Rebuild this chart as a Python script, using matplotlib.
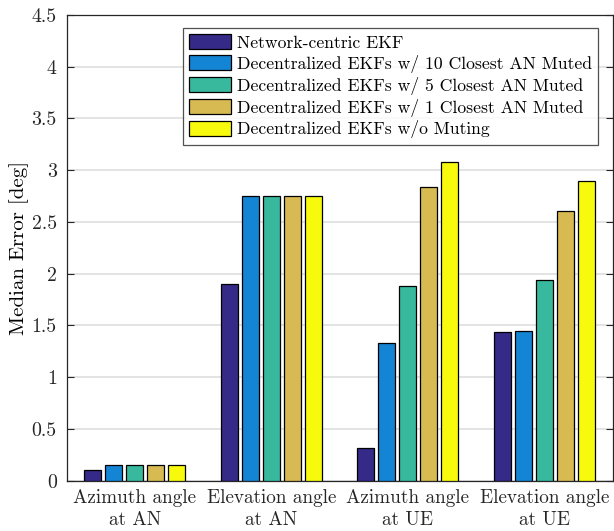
import matplotlib
matplotlib.use("Agg")
import matplotlib.pyplot as plt
import numpy as np

plt.rcParams['font.family'] = ['cmr10', 'DejaVu Serif']
plt.rcParams['axes.formatter.use_mathtext'] = True
plt.rcParams['mathtext.fontset'] = 'cm'

# data
categories = ["Azimuth angle\nat AN", "Elevation angle\nat AN",
              "Azimuth angle\nat UE", "Elevation angle\nat UE"]
series_names = ["Network-centric EKF",
                "Decentralized EKFs w/ 10 Closest AN Muted",
                "Decentralized EKFs w/ 5 Closest AN Muted",
                "Decentralized EKFs w/ 1 Closest AN Muted",
                "Decentralized EKFs w/o Muting"]
network_centric = [0.10, 1.90, 0.32, 1.44]
muted_10 = [0.15, 2.75, 1.33, 1.445]
muted_5 = [0.15, 2.75, 1.88, 1.935]
muted_1 = [0.15, 2.75, 2.84, 2.61]
no_muting = [0.15, 2.75, 3.08, 2.90]
yticks = [0, 0.5, 1, 1.5, 2, 2.5, 3, 3.5, 4, 4.5]
ytick_labels = ["0", "0.5", "1", "1.5", "2", "2.5", "3", "3.5", "4", "4.5"]

colors = ["#352a87", "#1484d4", "#38b99e", "#d7ba52", "#f8fa0d"]
values = [network_centric, muted_10, muted_5, muted_1, no_muting]

fig = plt.figure(figsize=(6.14, 5.31), dpi=100)
ax = fig.add_axes([66.5 / 614, 1 - 480.7 / 531, 546 / 614, 465.7 / 531])

x = np.arange(1, len(categories) + 1)
n = len(values)
pitch = 0.769 / n
width = pitch * 0.82
for i, (vals, c, name) in enumerate(zip(values, colors, series_names)):
    offs = (i - (n - 1) / 2) * pitch
    ax.bar(x + offs, vals, width, color=c, edgecolor="black", linewidth=0.9,
           label=name, zorder=3)

ax.set_xlim(0.5, 4.5)
ax.set_ylim(0, 4.5)
ax.set_yticks(yticks)
ax.set_yticklabels(ytick_labels)
ax.set_xticks(x)
ax.set_xticklabels(categories, linespacing=1.3)
ax.set_ylabel("Median Error [deg]", fontsize=15, labelpad=2)

ax.tick_params(axis="y", direction="in", right=True, length=5, width=0.8,
               labelsize=14.3, colors="#262626", pad=7)
ax.tick_params(axis="x", direction="in", top=False, length=0, labelsize=13.8,
               colors="#262626", pad=6)
for sp in ax.spines.values():
    sp.set_color("#262626")
    sp.set_linewidth(0.9)
ax.grid(axis="y", color="#dedede", linewidth=1.2, zorder=0)
ax.set_axisbelow(True)

leg = ax.legend(loc="upper right", bbox_to_anchor=(0.9734, 0.972), fontsize=12.7,
                frameon=True, fancybox=False, edgecolor="#262626",
                handlelength=2.38, handleheight=0.95, handletextpad=0.3,
                labelspacing=0.22, borderpad=0.35, borderaxespad=0)
leg.get_frame().set_linewidth(0.9)

fig.savefig("out.png", dpi=100)
